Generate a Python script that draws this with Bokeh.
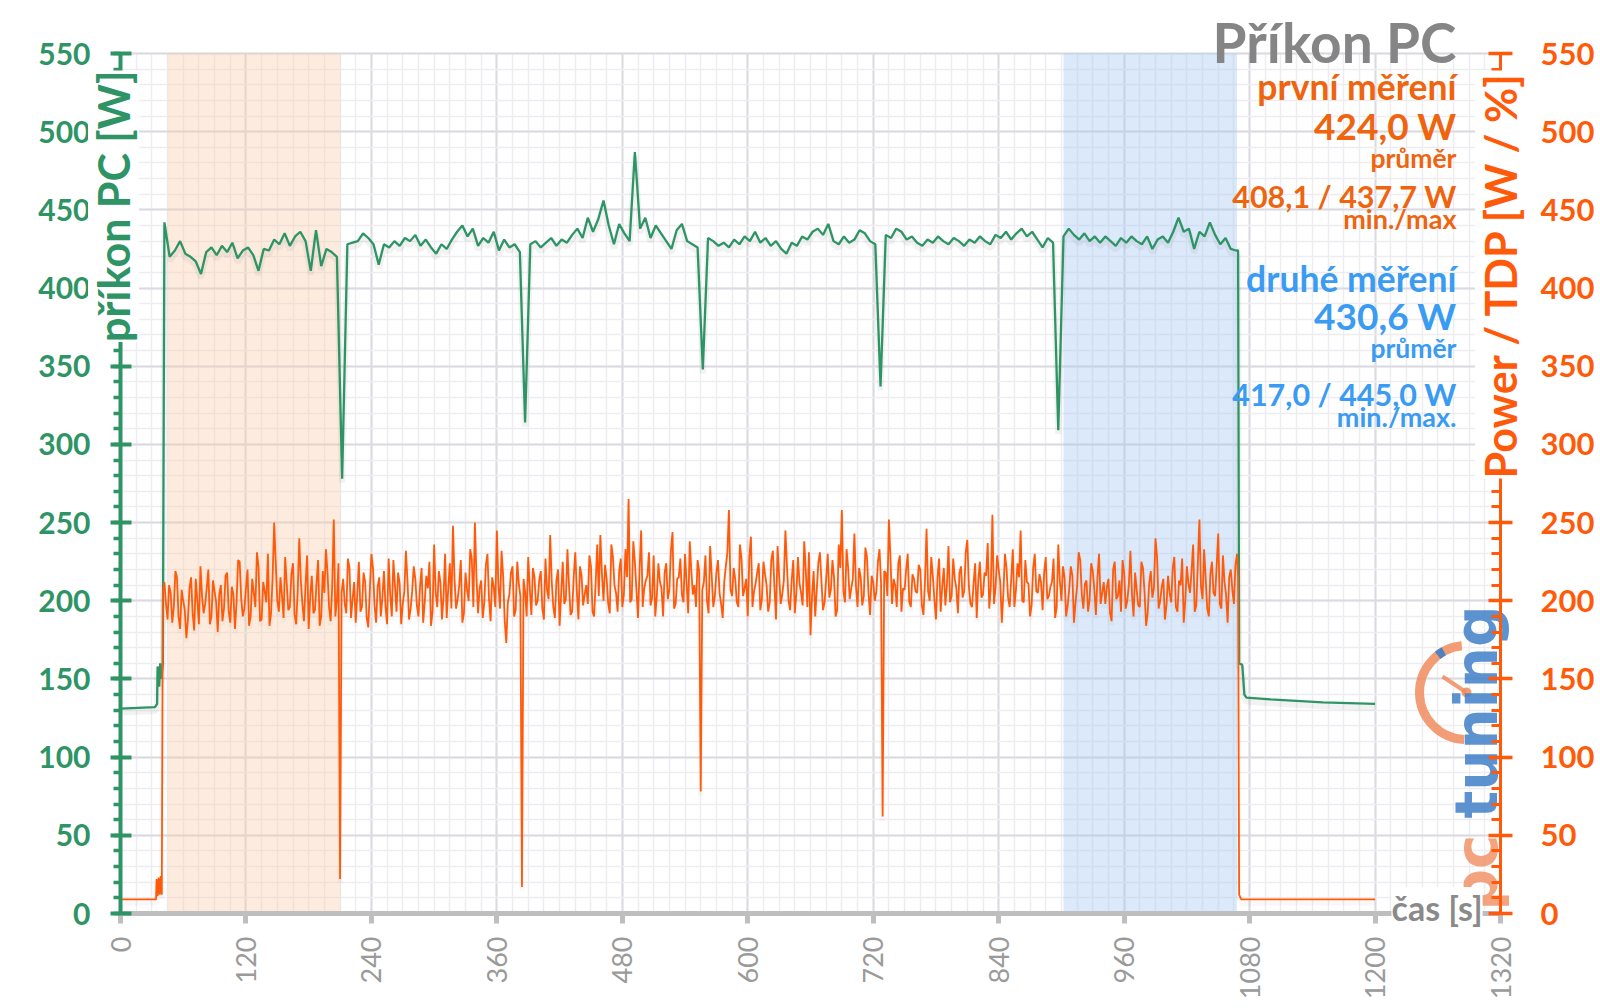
import numpy as np
from bokeh.plotting import figure
from bokeh.models import Range1d, LinearAxis, SingleIntervalTicker, BoxAnnotation, Label
from bokeh.embed import file_html
from bokeh.resources import INLINE

# ---------------- data ----------------
# green: "příkon PC" [W]
green_pre_t = [0, 33, 35, 35.5, 37, 38, 39, 40.5]
green_pre_v = [131, 132, 134, 158, 145, 160, 150, 160]
green_main_start, green_main_step = 42, 5
green_main_v = [
    442, 420, 424, 430, 422, 420, 417, 409, 423, 426,
    421, 427, 423, 429, 419, 424, 426, 421, 411, 425,
    424, 431, 428, 435, 427, 433, 436, 430, 411, 437,
    414, 425, 423, 420, 278, 428, 429, 430, 435, 432,
    428, 415, 428, 426, 430, 427, 432, 430, 434, 427,
    431, 426, 422, 428, 425, 431, 436, 440, 433, 438,
    427, 432, 429, 436, 424, 431, 426, 428, 423, 314,
    428, 430, 426, 429, 432, 427, 431, 429, 434, 438,
    432, 445, 436, 444, 456, 440, 428, 441, 435, 430,
    487, 438, 445, 432, 440, 435, 430, 425, 437, 441,
    430, 428, 426, 348, 432, 430, 427, 429, 426, 431,
    428, 433, 430, 436, 429, 432, 427, 430, 425, 422,
    429, 427, 433, 431, 436, 438, 434, 441, 430, 428,
    433, 429, 431, 437, 435, 430, 428, 337, 434, 432,
    438, 436, 431, 433, 429, 427, 431, 429, 433, 430,
    428, 432, 430, 427, 431, 429, 433, 430, 428, 434,
    432, 436, 431, 435, 438, 433, 436, 431, 426, 432,
    429, 309, 433, 438, 434, 431, 435, 430, 433, 429,
    433, 430, 427, 432, 429, 433, 430, 428, 433, 425,
    431, 433, 429, 436, 445, 436, 438, 425, 436, 433,
    442, 434, 428, 432, 425, 424,
]
green_post_t = [1069, 1070, 1073, 1075, 1077, 1100, 1150, 1200]
green_post_v = [424, 160, 159, 140, 138, 137, 135, 134]

# orange: "Power / TDP" [W / %]
orange_pre_t = [0, 34, 34.5, 35.5, 36.5, 37.5, 38.5, 39.5, 40.5]
orange_pre_v = [9, 9, 22, 11, 23, 12, 24, 12, 205]
orange_main_start, orange_step = 42, 3          # samples at 42, 45, 48 ...
orange_main_v = [
    212, 188, 205, 196, 215, 182, 200, 176, 208, 192, 214, 185, 203, 198, 220, 190, 206, 180, 210, 195,
    218, 186, 204, 199, 225, 190, 208, 184, 214, 196, 222, 188, 206, 230, 192, 250, 200, 215, 189, 211,
    196, 224, 185, 240, 198, 210, 182, 216, 194, 226, 190, 205, 218, 187, 252, 200, 22, 214, 192, 221,
    201, 186, 225, 196, 212, 183, 230, 197, 209, 190, 219, 185, 204, 226, 193, 211, 198, 232, 188, 206,
    214, 190, 221, 199, 208, 184, 236, 196, 212, 203, 189, 224, 248, 195, 210, 186, 218, 200, 227, 250,
    192, 213, 199, 230, 187, 209, 245, 195, 216, 173, 204, 222, 194, 211, 17, 206, 228, 191, 215, 200,
    219, 188, 207, 242, 196, 213, 184, 225, 201, 210, 193, 231, 188, 216, 204, 198, 222, 190, 236, 242,
    200, 214, 192, 228, 205, 219, 196, 233, 265, 201, 225, 189, 245, 208, 216, 197, 229, 203, 212, 190,
    224, 207, 244, 198, 215, 204, 230, 192, 219, 210, 226, 78, 212, 200, 235, 196, 218, 205, 189, 222,
    258, 203, 214, 196, 227, 208, 190, 241, 206, 218, 194, 225, 210, 199, 232, 188, 216, 204, 245, 200,
    213, 192, 228, 205, 238, 196, 178, 219, 207, 231, 194, 214, 202, 226, 190, 236, 258, 199, 221, 208,
    243, 196, 215, 203, 228, 191, 212, 206, 233, 62, 218, 252, 198, 210, 224, 193, 207, 230, 196, 214,
    205, 220, 191, 246, 200, 216, 188, 227, 209, 197, 235, 203, 214, 192, 222, 206, 239, 198, 211, 189,
    225, 204, 216, 195, 255, 208, 220, 186, 230, 202, 214, 196, 224, 245, 199, 212, 190, 221, 206, 217,
    194, 228, 203, 212, 189, 236, 200, 215, 197, 222, 186, 209, 226, 195, 213, 201, 219, 191, 230, 205,
    198, 214, 187, 225, 203, 193, 218, 200, 232, 190, 207, 196, 221, 184, 211, 202, 240, 195, 209, 188,
    216, 199, 228, 193, 210, 186, 222, 205, 236, 197, 252, 201, 214, 190, 225, 203, 243, 195, 212, 186,
    220, 198, 230,
]
orange_mid_start = 43.5                          # samples at 43.5, 46.5, 49.5 ...
orange_mid_v = [
    198, 210, 186, 219, 190, 207, 194, 188, 215, 181, 200, 222, 192, 208, 185, 213, 199, 204, 187, 216,
    193, 209, 182, 226, 201, 195, 220, 190, 205, 231, 187, 212, 199, 184, 215, 224, 193, 203, 228, 194,
    217, 191, 206, 213, 187, 229, 203, 192, 211, 184, 219, 233, 196, 209, 190, 224, 205, 198, 227, 189,
    212, 204, 193, 218, 189, 207, 221, 186, 215, 202, 196, 227, 190, 210, 218, 185, 206, 213, 195, 222,
    197, 209, 186, 216, 225, 193, 205, 219, 188, 230, 208, 195, 214, 201, 226, 192, 207, 233, 196, 215,
    208, 189, 223, 201, 215, 196, 210, 232, 187, 199, 218, 190, 225, 203, 214, 190, 208, 221, 197, 213,
    195, 227, 201, 212, 189, 220, 204, 198, 233, 191, 215, 206, 222, 197, 210, 229, 193, 211, 203, 217,
    223, 198, 236, 210, 193, 227, 204, 215, 199, 238, 207, 220, 196, 213, 231, 202, 190, 224, 208, 218,
    201, 232, 195, 214, 227, 199, 211, 238, 204, 196, 219, 207, 229, 192, 216, 203, 226, 198, 212, 231,
    207, 221, 199, 236, 203, 214, 228, 196, 211, 224, 201, 217, 193, 226, 209, 235, 198, 213, 222, 194,
    226, 205, 211, 197, 219, 231, 203, 190, 224, 212, 199, 230, 207, 215, 194, 221, 206, 233, 201, 214,
    209, 221, 197, 234, 205, 216, 200, 225, 211, 219, 203, 227, 214, 196, 229, 208, 220, 199, 217, 206,
    223, 197, 212, 206, 228, 201, 215, 193, 221, 210, 199, 227, 208, 218, 202, 231, 209, 196, 224, 213,
    202, 218, 237, 209, 198, 229, 212, 205, 221, 196, 233, 207, 215, 200, 226, 211, 197, 230, 205, 212,
    218, 201, 209, 227, 196, 213, 222, 190, 208, 216, 199, 231, 204, 211, 193, 224, 207, 215, 198, 212,
    209, 192, 220, 201, 213, 226, 195, 210, 204, 218, 197, 225, 206, 192, 219, 208, 228, 200, 214, 197,
    205, 221, 196, 213, 227, 200, 211, 219, 193, 224, 209, 233, 195, 217, 205, 222, 198, 229, 204, 215,
    207, 223,
]
orange_post_t = [1069, 1070, 1072, 1200]
orange_post_v = [215, 12, 9, 9]

first_window = [45, 210.5]
second_window = [902, 1068]

x_max, y_max = 1320, 550
x_ticks_step = 120
y_ticks_step = 50

title_text = "Příkon PC"
first_texts = ["první měření", "424,0 W", "průměr", "408,1 / 437,7 W", "min./max"]
second_texts = ["druhé měření", "430,6 W", "průměr", "417,0 / 445,0 W", "min./max."]
left_label = "příkon PC [W]"
right_label = "Power / TDP [W / %]"
x_label = "čas [s]"

# ---------------- build series ----------------
gm_t = green_main_start + green_main_step * np.arange(len(green_main_v))
green_t = np.concatenate([green_pre_t, gm_t, green_post_t])
green_v = np.concatenate([green_pre_v, green_main_v, green_post_v]).astype(float)

om_t = orange_main_start + orange_step * np.arange(len(orange_main_v))
oi_t = orange_mid_start + orange_step * np.arange(len(orange_mid_v))
core_t = np.concatenate([om_t, oi_t])
core_v = np.concatenate([orange_main_v, orange_mid_v])
order = np.argsort(core_t, kind="stable")
orange_t = np.concatenate([orange_pre_t, core_t[order], orange_post_t])
orange_v = np.concatenate([orange_pre_v, core_v[order], orange_post_v]).astype(float)

# ---------------- figure ----------------
GREEN = "#2E9465"
ORANGE = "#FF5A0A"
ORANGE_TXT = "#EE640F"
BLUE_TXT = "#3A9BF2"
GREY = "#8A8A8A"
FONT = "Lato"

W, H = 1598, 1006
# page-pixel position of the data area (0..x_max, 0..y_max)
PL, PR, PT, PB = 120, 1500, 53, 913
sx = x_max / (PR - PL)
sy = y_max / (PB - PT)
x_range = Range1d(-PL * sx, (W - PL) * sx)
y_range = Range1d(-(H - PB) * sy, PB * sy)

def dx(px):
    return (px - PL) * sx

def dy(py):
    return (PB - py) * sy

p = figure(width=W, height=H, output_backend="svg", toolbar_location=None,
           x_range=x_range, y_range=y_range, min_border=0)
p.outline_line_color = None
p.background_fill_color = "white"
p.border_fill_color = "white"

# grids limited to the data area
gx, gy = p.xgrid[0], p.ygrid[0]
gx.ticker = SingleIntervalTicker(interval=x_ticks_step, num_minor_ticks=8)
gy.ticker = SingleIntervalTicker(interval=y_ticks_step, num_minor_ticks=5)
gx.bounds = (0, x_max)
gy.bounds = (0, y_max)
manual_grid = False
try:
    gx.cross_bounds = (0, y_max)
    gy.cross_bounds = (0, x_max)
except Exception:
    manual_grid = True
for g in (gx, gy):
    g.grid_line_color = "#DADAE0"
    g.grid_line_width = 2
    g.minor_grid_line_color = "#EDEDF1"
    g.minor_grid_line_width = 1.5
if manual_grid:
    gx.visible = False
    gy.visible = False
    xm = np.arange(0, x_max + 1, 15)
    ym = np.arange(0, y_max + 1, 10)
    p.segment(x0=xm, y0=0, x1=xm, y1=y_max, line_color="#EDEDF1", line_width=1.5, level="underlay")
    p.segment(x0=0, y0=ym, x1=x_max, y1=ym, line_color="#EDEDF1", line_width=1.5, level="underlay")
    xM = np.arange(0, x_max + 1, x_ticks_step)
    yM = np.arange(0, y_max + 1, y_ticks_step)
    p.segment(x0=xM, y0=0, x1=xM, y1=y_max, line_color="#DADAE0", line_width=2, level="underlay")
    p.segment(x0=0, y0=yM, x1=x_max, y1=yM, line_color="#DADAE0", line_width=2, level="underlay")

# x axis
xa = p.xaxis[0]
xa.fixed_location = 0
xa.bounds = (0, x_max)
xa.ticker = SingleIntervalTicker(interval=x_ticks_step)
xa.axis_line_color = "#BEBEBE"
xa.axis_line_width = 5
xa.major_tick_line_color = "#BEBEBE"
xa.major_tick_line_width = 5
xa.major_tick_in = 0
xa.major_tick_out = 10
xa.minor_tick_line_color = None
xa.major_label_orientation = np.pi / 2
xa.major_label_standoff = 13
xa.major_label_text_font = FONT
xa.major_label_text_font_size = "27px"
xa.major_label_text_color = "#9A9A9A"

# left axis
ya = p.yaxis[0]
ya.fixed_location = 0
ya.bounds = (0, y_max)
ya.ticker = SingleIntervalTicker(interval=y_ticks_step, num_minor_ticks=5)
ya.axis_line_color = GREEN
ya.axis_line_width = 4
ya.major_tick_line_color = GREEN
ya.major_tick_line_width = 4
ya.major_tick_in = 11
ya.major_tick_out = 10
ya.minor_tick_line_color = GREEN
ya.minor_tick_line_width = 3.5
ya.minor_tick_in = 0
ya.minor_tick_out = 7
ya.major_label_standoff = 20
ya.major_label_text_font = FONT
ya.major_label_text_font_style = "bold"
ya.major_label_text_font_size = "30px"
ya.major_label_text_color = GREEN

# right axis
ra = LinearAxis(fixed_location=x_max, bounds=(0, y_max),
                ticker=SingleIntervalTicker(interval=y_ticks_step, num_minor_ticks=5))
ra.axis_line_color = ORANGE
ra.axis_line_width = 3
ra.major_tick_line_color = ORANGE
ra.major_tick_line_width = 3.5
ra.major_tick_in = 12
ra.major_tick_out = 12
ra.minor_tick_line_color = ORANGE
ra.minor_tick_line_width = 3
ra.minor_tick_in = 9
ra.minor_tick_out = 0
ra.major_label_standoff = 28
ra.major_label_text_font = FONT
ra.major_label_text_font_style = "bold"
ra.major_label_text_font_size = "31px"
ra.major_label_text_color = ORANGE
p.add_layout(ra, "right")

# measurement windows
p.add_layout(BoxAnnotation(left=first_window[0], right=first_window[1], bottom=0, top=y_max,
                           fill_color="#F9C9A0", fill_alpha=0.35, line_color=None, level="underlay"))
p.add_layout(BoxAnnotation(left=second_window[0], right=second_window[1], bottom=0, top=y_max,
                           fill_color="#A6C8F2", fill_alpha=0.40, line_color=None, level="underlay"))

# watermark logo (under the axes)
LOGO_O = "#F08C5E"
LOGO_B = "#3F7FC8"
cx, cy = dx(1466), dy(692)
p.arc(x=[cx], y=[cy], radius=47, radius_units="screen", start_angle=np.pi / 2 + 0.1,
      end_angle=3 * np.pi / 2 - 0.05, line_color=LOGO_O, line_width=9, line_alpha=0.85)
p.arc(x=[cx], y=[cy], radius=47, radius_units="screen", start_angle=0.66 * np.pi,
      end_angle=0.71 * np.pi, line_color=LOGO_B, line_width=9, line_alpha=0.9)
p.segment(x0=[cx], y0=[cy], x1=[dx(1442)], y1=[dy(676)], line_color=LOGO_O, line_width=4, line_alpha=0.85)
p.scatter(x=[cx], y=[cy], size=10, fill_color=LOGO_O, line_color=None, alpha=0.85)
p.add_layout(Label(x=dx(1476), y=dy(910), text="pc", angle=np.pi / 2, text_align="left",
                   text_baseline="middle", text_font="DejaVu Sans", text_font_style="bold",
                   text_font_size="58px", text_color=LOGO_O, text_alpha=0.8, level="glyph"))
p.add_layout(Label(x=dx(1476), y=dy(818), text="tuning", angle=np.pi / 2, text_align="left",
                   text_baseline="middle", text_font="DejaVu Sans", text_font_style="bold",
                   text_font_size="58px", text_color=LOGO_B, text_alpha=0.85, level="glyph"))

# soft shadows + lines
p.line(green_t, green_v - 2.5, line_color="#808080", line_alpha=0.10, line_width=6)
p.line(green_t, green_v, line_color=GREEN, line_width=2.3)
p.line(orange_t, orange_v - 2.5, line_color="#808080", line_alpha=0.06, line_width=5)
p.line(orange_t, orange_v, line_color=ORANGE, line_width=1.8)

# axis titles
p.add_layout(Label(x=dx(PL - 7), y=dy(70), text=left_label, angle=np.pi / 2, text_align="right",
                   text_baseline="middle", text_font=FONT, text_font_style="bold",
                   text_font_size="43px", text_color=GREEN, background_fill_color="white"))
p.add_layout(Label(x=dx(PR), y=dy(70), text=right_label, angle=np.pi / 2, text_align="right",
                   text_baseline="middle", text_font=FONT, text_font_style="bold",
                   text_font_size="43px", text_color=ORANGE, background_fill_color="white"))
p.add_layout(Label(x=dx(1391), y=dy(907), text=x_label, text_align="left", text_baseline="middle",
                   text_font=FONT, text_font_style="bold", text_font_size="34px", text_color=GREY,
                   background_fill_color="white"))

# title & stats: anchor at the bottom of the text box (baseline + descent)
def bottom_y(baseline_px, size_px):
    return dy(baseline_px + 0.215 * size_px)

XR = dx(1456)
p.add_layout(Label(x=XR, y=bottom_y(63, 55), text=title_text, text_align="right", text_baseline="bottom",
                   text_font=FONT, text_font_style="bold", text_font_size="55px", text_color="#858585"))
sizes = [35.5, 37, 26.5, 30.5, 27]
first_base = [100, 140, 168, 207, 229]
second_base = [292, 330, 358, 405, 427]
for txt, sz, b in zip(first_texts, sizes, first_base):
    p.add_layout(Label(x=XR, y=bottom_y(b, sz), text=txt, text_align="right", text_baseline="bottom",
                       text_font=FONT, text_font_style="bold", text_font_size=f"{sz}px",
                       text_color=ORANGE_TXT))
for txt, sz, b in zip(second_texts, sizes, second_base):
    p.add_layout(Label(x=XR, y=bottom_y(b, sz), text=txt, text_align="right", text_baseline="bottom",
                       text_font=FONT, text_font_style="bold", text_font_size=f"{sz}px",
                       text_color=BLUE_TXT))

open("out.html", "w").write(file_html(p, INLINE))
